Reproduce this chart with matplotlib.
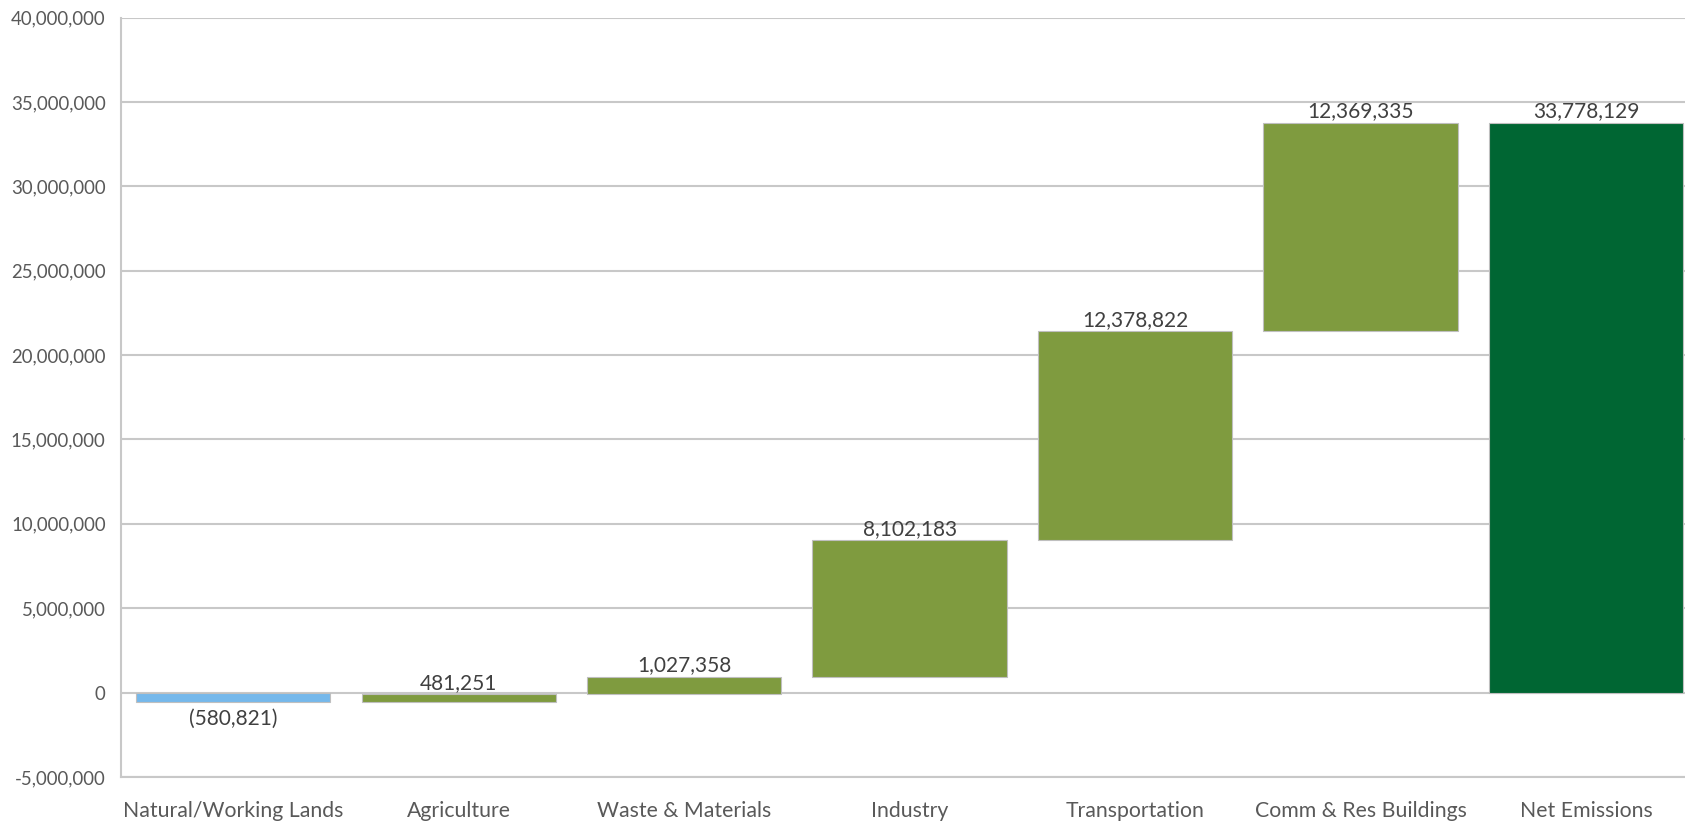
import matplotlib
matplotlib.use("Agg")
import matplotlib.pyplot as plt
import numpy as np
from matplotlib.ticker import FuncFormatter

categories = ["Natural/Working Lands", "Agriculture", "Waste & Materials", "Industry",
              "Transportation", "Comm & Res Buildings", "Net Emissions"]
changes = [-580821, 481251, 1027358, 8102183, 12378822, 12369335]
net_total = 33778129
y_ticks = [-5000000, 0, 5000000, 10000000, 15000000, 20000000, 25000000, 30000000, 35000000, 40000000]

plt.rcParams['font.family'] = ['Lato', 'DejaVu Sans']
label_color = "#404040"
tick_color = "#595959"

fig = plt.figure(figsize=(16.85, 8.23), dpi=100)
ax = fig.add_axes([120.6/1685, 46/823, 1578/1685, 759.5/823])

x = np.arange(len(categories))
cum = np.concatenate([[0], np.cumsum(changes)])
bottoms = []
heights = []
colors = []
for i, c in enumerate(changes):
    bottoms.append(cum[i])
    heights.append(c)
    colors.append("#75b8eb" if c < 0 else "#7f9b3f")
bottoms.append(0)
heights.append(net_total)
colors.append("#006633")

ax.bar(x, heights, bottom=bottoms, width=0.862, color=colors, edgecolor="#bfbfbf",
       linewidth=0.8, zorder=3)

labels_vals = changes + [net_total]
for i, v in enumerate(labels_vals):
    y = bottoms[i] + heights[i]
    if v < 0:
        ax.annotate(f"({abs(v):,})", (x[i], y), xytext=(0, -5), textcoords="offset points",
                    ha="center", va="top", fontsize=15, color=label_color)
    else:
        ax.annotate(f"{v:,}", (x[i], y), xytext=(0, 1), textcoords="offset points",
                    ha="center", va="bottom", fontsize=15, color=label_color)

ax.set_ylim(-5000000, 40000000)
ax.set_xlim(-0.5, len(categories) - 0.5)
ax.set_yticks(y_ticks)
ax.yaxis.set_major_formatter(FuncFormatter(lambda v, p: f"{int(v):,}"))
ax.set_xticks(x)
ax.set_xticklabels(categories)
ax.tick_params(axis="both", length=0, colors=tick_color)
ax.tick_params(axis="x", pad=17, labelsize=15.3)
ax.tick_params(axis="y", pad=10.8, labelsize=13.4)
ax.grid(axis="y", color="#c8c8c8", linewidth=1.5, zorder=0)
ax.set_axisbelow(True)
for s in ["top", "right"]:
    ax.spines[s].set_visible(False)
ax.spines["left"].set_color("#c8c8c8")
ax.spines["left"].set_linewidth(1.5)
ax.spines["bottom"].set_color("#c8c8c8")
ax.spines["bottom"].set_linewidth(1.5)

fig.savefig("out.png", dpi=100, facecolor="white")
